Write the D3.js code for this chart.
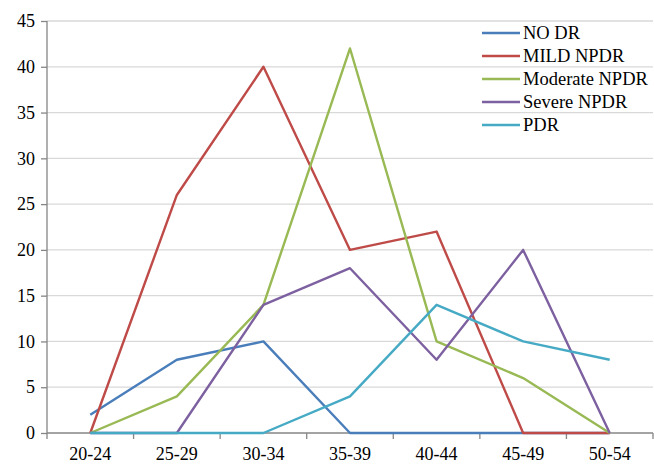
<!DOCTYPE html>
<html>
<head>
<meta charset="utf-8">
<script src="https://cdn.jsdelivr.net/npm/d3@7"></script>
<style>
  html, body { margin: 0; padding: 0; background: #fff; }
  svg { display: block; }
</style>
</head>
<body>
<svg id="chart" width="654" height="464"></svg>
<script>
// Age groups on the x axis
const ageGroups = ["20-24", "25-29", "30-34", "35-39", "40-44", "45-49", "50-54"];
// Y-axis ticks
const yTicks = [0, 5, 10, 15, 20, 25, 30, 35, 40, 45];

// Counts per age group for each retinopathy grade
const noDR       = [2, 8, 10, 0, 0, 0, 0];
const mildNPDR   = [0, 26, 40, 20, 22, 0, 0];
const modNPDR    = [0, 4, 14, 42, 10, 6, 0];
const severeNPDR = [0, 0, 14, 18, 8, 20, 0];
const pdr        = [0, 0, 0, 4, 14, 10, 8];

const seriesNames  = ["NO DR", "MILD NPDR", "Moderate NPDR", "Severe NPDR", "PDR"];
const seriesValues = [noDR, mildNPDR, modNPDR, severeNPDR, pdr];
const seriesColors = ["#4A7EBB", "#BE4B48", "#98B954", "#7D60A0", "#46AAC5"];

const serif = "'Liberation Serif'";

const svg = d3.select("#chart");
const margin = { left: 47, right: 1, top: 21, bottom: 31 };
const W = 654, H = 464;

const x = d3.scaleBand().domain(ageGroups).range([margin.left, W - margin.right]);
const y = d3.scaleLinear().domain([0, 45]).range([H - margin.bottom, margin.top]);

// Horizontal gridlines
svg.append("g")
  .selectAll("line")
  .data(yTicks.filter(d => d > 0))
  .join("line")
  .attr("x1", margin.left).attr("x2", W - margin.right)
  .attr("y1", d => y(d)).attr("y2", d => y(d))
  .attr("stroke", "#D9D9D9").attr("stroke-width", 1.3);

// Y axis
const yAxis = svg.append("g")
  .attr("transform", `translate(${margin.left},0)`)
  .call(d3.axisLeft(y).tickValues(yTicks).tickSize(6).tickPadding(6));
yAxis.selectAll("path, line").attr("stroke", "#868686").attr("stroke-width", 1.3);
yAxis.select(".domain").attr("d", `M0,${y(0)}V${y(45)}`);
yAxis.selectAll("text")
  .style("font-family", serif)
  .style("font-size", "18px").attr("fill", "#000");

// X axis with ticks at category boundaries
const xAxis = svg.append("g")
  .attr("transform", `translate(0,${y(0)})`)
  .call(d3.axisBottom(x).tickSize(0).tickPadding(14));
xAxis.select(".domain").attr("d", `M${margin.left},0H${W - margin.right}`)
  .attr("stroke", "#868686").attr("stroke-width", 1.3);
xAxis.selectAll("text")
  .style("font-family", serif)
  .style("font-size", "18px").attr("fill", "#000");
const bounds = ageGroups.map(d => x(d)).concat([x(ageGroups[ageGroups.length - 1]) + x.bandwidth()]);
xAxis.selectAll("line.bound")
  .data(bounds)
  .join("line")
  .attr("class", "bound")
  .attr("x1", d => d).attr("x2", d => d)
  .attr("y1", 0).attr("y2", 6)
  .attr("stroke", "#868686").attr("stroke-width", 1.3);

// Series lines
const line = d3.line()
  .x((d, i) => x(ageGroups[i]) + x.bandwidth() / 2)
  .y(d => y(d));

svg.append("g")
  .selectAll("path")
  .data(seriesValues)
  .join("path")
  .attr("d", d => line(d))
  .attr("fill", "none")
  .attr("stroke", (d, i) => seriesColors[i])
  .attr("stroke-width", 2.4)
  .attr("stroke-linejoin", "round");

// Legend
const legend = svg.append("g");
const lx = 482, ly = 33, step = 23;
seriesNames.forEach((name, i) => {
  const row = legend.append("g").attr("transform", `translate(${lx},${ly + i * step})`);
  row.append("rect").attr("x", -2).attr("y", -10).attr("width", 170).attr("height", 20).attr("fill", "#fff");
  row.append("line")
    .attr("x1", 0).attr("x2", 38).attr("y1", 0).attr("y2", 0)
    .attr("stroke", seriesColors[i]).attr("stroke-width", 2.4);
  row.append("text")
    .attr("x", 41).attr("y", 0).attr("dy", "0.35em")
    .style("font-family", serif)
    .style("font-size", "18.5px")
    .attr("fill", "#000")
    .text(name);
});
</script>
</body>
</html>
